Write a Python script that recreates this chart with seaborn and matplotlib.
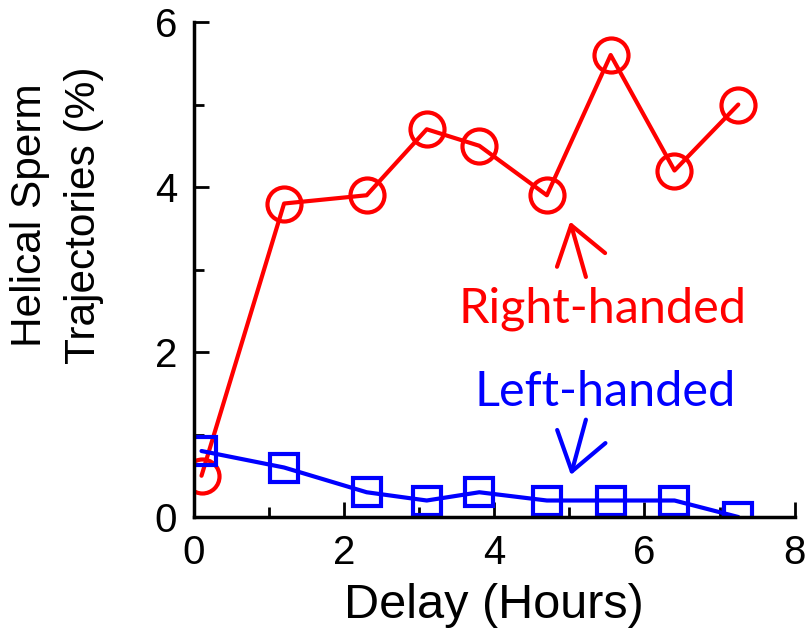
import seaborn as sns
import matplotlib.pyplot as plt
import pandas as pd

# valores
delay_hours = [0.1, 1.2, 2.3, 3.1, 3.8, 4.7, 5.55, 6.4, 7.25]
right_handed = [0.5, 3.8, 3.9, 4.7, 4.5, 3.9, 5.6, 4.2, 5.0]
left_handed = [0.8, 0.6, 0.3, 0.2, 0.3, 0.2, 0.2, 0.2, 0.0]

df = pd.DataFrame({'Delay': delay_hours, 'Right': right_handed, 'Left': left_handed})

sns.set_style('ticks')
plt.rcParams['font.family'] = ['Liberation Sans', 'DejaVu Sans']
plt.rcParams['text.color'] = 'black'
plt.rcParams['axes.labelcolor'] = 'black'
plt.rcParams['xtick.color'] = 'black'
plt.rcParams['ytick.color'] = 'black'

fig = plt.figure(figsize=(8.1, 6.42), dpi=100)
ax = fig.add_axes([0.2395, 0.1947, 0.7415, 0.771])

sns.lineplot(data=df, x='Delay', y='Right', ax=ax, color='#ff0000', linewidth=3,
             marker='o', markersize=24.5, markerfacecolor='none',
             markeredgecolor='#ff0000', markeredgewidth=3)
sns.lineplot(data=df, x='Delay', y='Left', ax=ax, color='#0000ff', linewidth=3,
             marker='s', markersize=20, markerfacecolor='none',
             markeredgecolor='#0000ff', markeredgewidth=3)

ax.set_xlim(0, 8)
ax.set_ylim(0, 6)
ax.set_xticks([0, 2, 4, 6, 8])
ax.set_xticks([1, 3, 5, 7], minor=True)
ax.set_yticks([0, 2, 4, 6])
ax.set_yticks([1, 3, 5], minor=True)
ax.tick_params(which='both', direction='in', width=2, color='black',
               bottom=True, left=True, labelsize=29, pad=12)
ax.tick_params(which='major', length=11)
ax.tick_params(which='minor', length=7)

for s in ['top', 'right']:
    ax.spines[s].set_visible(False)
for s in ['left', 'bottom']:
    ax.spines[s].set_linewidth(2.5)
    ax.spines[s].set_color('black')

ax.set_xlabel('Delay (Hours)', fontsize=35, labelpad=8)
ax.set_ylabel('Helical Sperm\nTrajectories (%)', fontsize=30.5, linespacing=1.45)
ax.yaxis.set_label_coords(-0.15, 0.61)

ax.text(5.44, 2.52, 'Right-handed', color='#ff0000', fontsize=35,
        family='Lato', ha='center', va='center')
ax.text(5.47, 1.52, 'Left-handed', color='#0000ff', fontsize=35,
        family='Lato', ha='center', va='center')

arrow = '->,head_length=0.65,head_width=0.45'
ax.annotate('', xy=(5.01, 3.58), xytext=(5.22, 2.91),
            arrowprops=dict(arrowstyle=arrow, color='#ff0000', lw=3, mutation_scale=40,
                            shrinkA=0, shrinkB=0))
ax.annotate('', xy=(5.02, 0.51), xytext=(5.22, 1.18),
            arrowprops=dict(arrowstyle=arrow, color='#0000ff', lw=3, mutation_scale=40,
                            shrinkA=0, shrinkB=0))

plt.savefig('out.png', dpi=100)
